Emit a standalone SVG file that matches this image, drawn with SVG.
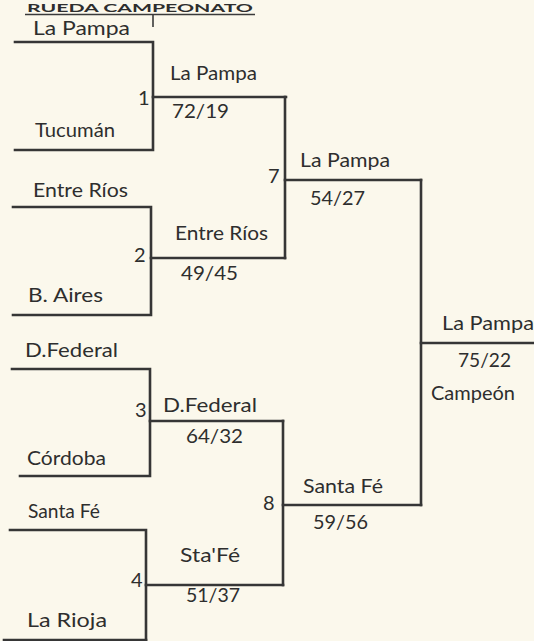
<svg xmlns="http://www.w3.org/2000/svg" width="534" height="641" viewBox="0 0 534 641">
<style>
text{font-family:Lato,"Liberation Sans",sans-serif;font-size:20px;fill:#2e2e2e}
text.title{font-size:11px;font-weight:bold}
.ln{stroke:#363636;stroke-width:2.6;fill:none;stroke-linecap:square}
.thin{stroke:#3a3a3a;stroke-width:1.6;fill:none}
</style>
<rect width="534" height="641" fill="#fbf8ec"/>
<g id="title">
<text class="title" x="27" y="12" textLength="226" lengthAdjust="spacingAndGlyphs">RUEDA CAMPEONATO</text>
<line class="thin" x1="25" y1="14.5" x2="255" y2="14.5"/>
<line class="thin" x1="153" y1="15" x2="153" y2="27"/>
</g>
<g id="connectors">
<polyline class="ln" points="15,42 153,42 153,150 15,150"/>
<line class="ln" x1="153" y1="97" x2="286" y2="97"/>
<polyline class="ln" points="13,207 151,207 151,315 13,315"/>
<line class="ln" x1="151" y1="258" x2="285" y2="258"/>
<line class="ln" x1="285" y1="97" x2="285" y2="258"/>
<line class="ln" x1="285" y1="180" x2="421" y2="180"/>
<polyline class="ln" points="12,369 150,369 150,476 20,476"/>
<line class="ln" x1="150" y1="421" x2="283" y2="421"/>
<polyline class="ln" points="10,530 146,530 146,641"/>
<line class="ln" x1="4" y1="640" x2="146" y2="640"/>
<line class="ln" x1="146" y1="585" x2="283" y2="585"/>
<line class="ln" x1="283" y1="421" x2="283" y2="585"/>
<line class="ln" x1="283" y1="505" x2="421" y2="505"/>
<line class="ln" x1="421" y1="180" x2="421" y2="505"/>
<line class="ln" x1="421" y1="343" x2="534" y2="343"/>
</g>
<g id="team-la-pampa"><text x="33" y="35" textLength="97" lengthAdjust="spacingAndGlyphs">La Pampa</text></g>
<g id="team-tucuman"><text x="35" y="137" textLength="80" lengthAdjust="spacingAndGlyphs">Tucumán</text></g>
<g id="team-entre-rios"><text x="33" y="197" textLength="95" lengthAdjust="spacingAndGlyphs">Entre Ríos</text></g>
<g id="team-b-aires"><text x="28" y="302" textLength="75" lengthAdjust="spacingAndGlyphs">B. Aires</text></g>
<g id="team-d-federal"><text x="25" y="357" textLength="93" lengthAdjust="spacingAndGlyphs">D.Federal</text></g>
<g id="team-cordoba"><text x="27" y="465" textLength="79" lengthAdjust="spacingAndGlyphs">Córdoba</text></g>
<g id="team-santa-fe"><text x="28" y="518" textLength="72" lengthAdjust="spacingAndGlyphs">Santa Fé</text></g>
<g id="team-la-rioja"><text x="27" y="627" textLength="80" lengthAdjust="spacingAndGlyphs">La Rioja</text></g>
<g id="match-1">
<text x="138" y="105">1</text>
<text x="170" y="80" textLength="87" lengthAdjust="spacingAndGlyphs">La Pampa</text>
<text x="172" y="118" textLength="57" lengthAdjust="spacingAndGlyphs">72/19</text>
</g>
<g id="match-2">
<text x="134" y="262">2</text>
<text x="175" y="240" textLength="93" lengthAdjust="spacingAndGlyphs">Entre Ríos</text>
<text x="181" y="280" textLength="57" lengthAdjust="spacingAndGlyphs">49/45</text>
</g>
<g id="match-3">
<text x="135" y="417">3</text>
<text x="163" y="412" textLength="94" lengthAdjust="spacingAndGlyphs">D.Federal</text>
<text x="186" y="443" textLength="57" lengthAdjust="spacingAndGlyphs">64/32</text>
</g>
<g id="match-4">
<text x="131" y="587">4</text>
<text x="180" y="562" textLength="60" lengthAdjust="spacingAndGlyphs">Sta'Fé</text>
<text x="186" y="602" textLength="54" lengthAdjust="spacingAndGlyphs">51/37</text>
</g>
<g id="match-7">
<text x="268" y="183">7</text>
<text x="300" y="167" textLength="90" lengthAdjust="spacingAndGlyphs">La Pampa</text>
<text x="310" y="205" textLength="55" lengthAdjust="spacingAndGlyphs">54/27</text>
</g>
<g id="match-8">
<text x="263" y="510">8</text>
<text x="303" y="493" textLength="80" lengthAdjust="spacingAndGlyphs">Santa Fé</text>
<text x="313" y="529" textLength="55" lengthAdjust="spacingAndGlyphs">59/56</text>
</g>
<g id="final">
<text x="442" y="330" textLength="92" lengthAdjust="spacingAndGlyphs">La Pampa</text>
<text x="458" y="367" textLength="53" lengthAdjust="spacingAndGlyphs">75/22</text>
<text x="431" y="400" textLength="84" lengthAdjust="spacingAndGlyphs">Campeón</text>
</g>
</svg>
